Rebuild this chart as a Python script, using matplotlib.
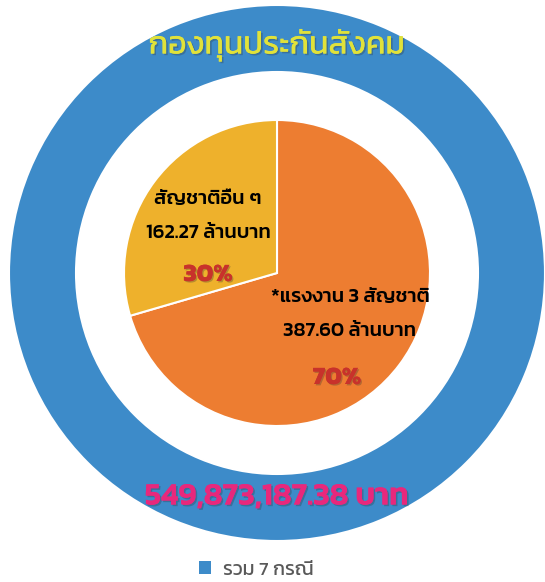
"""Social security fund donut: total ring + split by nationality group."""
import matplotlib
matplotlib.use("Agg")
import matplotlib.pyplot as plt
import matplotlib.patheffects as pe
from matplotlib.patches import Patch

plt.rcParams["font.family"] = ["Kanit", "DejaVu Sans"]

TITLE = "กองทุนประกันสังคม"
TOTAL_LABEL = ["รวม 7 กรณี"]
TOTAL_VALUE = [549873187.38]          # baht
GROUP_NAMES = ["*แรงงาน 3 สัญชาติ", "สัญชาติอื่น ๆ"]
GROUP_VALUES = [387.60, 162.27]       # million baht
GROUP_COLORS = ["#ED7D31", "#EEB12C"]
RING_COLOR = "#3D8BC9"

W, H = 545, 582
CX, CY = 277, H - 273
R_OUT, R_HOLE, R_PIE = 268, 201, 153


def shadow(dx=1.0, dy=-1.0, alpha=0.3):
    return [pe.withSimplePatchShadow(offset=(dx, dy), shadow_rgbFace="#333333", alpha=alpha),
            pe.Normal()]


fig = plt.figure(figsize=(W / 100, H / 100), dpi=100)
ax = fig.add_axes([0, 0, 1, 1])

ax.pie(TOTAL_VALUE, radius=R_OUT, center=(CX, CY), startangle=90,
       colors=[RING_COLOR],
       wedgeprops=dict(width=R_OUT - R_HOLE, edgecolor="white", linewidth=1.5))
ax.pie(GROUP_VALUES, radius=R_PIE, center=(CX, CY), startangle=90, counterclock=False,
       colors=GROUP_COLORS, wedgeprops=dict(edgecolor="white", linewidth=1.5))

# pie() resets the limits, so fix the pixel-like frame afterwards
ax.set_xlim(0, W)
ax.set_ylim(0, H)
ax.set_aspect("equal")
ax.axis("off")

total_m = sum(GROUP_VALUES)
pcts = [v / total_m * 100 for v in GROUP_VALUES]

# group labels (orange slice right/below, yellow slice left/up)
offsets = [(73, -58), (-69, 40)]
for name, val, pct, (dx, dy) in zip(GROUP_NAMES, GROUP_VALUES, pcts, offsets):
    x, y = CX + dx, CY + dy
    ax.text(x, y + 34, name, ha="center", va="center", fontsize=14.5,
            fontweight="medium", color="black")
    ax.text(x, y, f"{val:.2f} ล้านบาท", ha="center", va="center", fontsize=14.5,
            fontweight="medium", color="black")
    ax.text(x - (13 if dx > 0 else 0), y - (47 if dx > 0 else 42), f"{pct:.0f}%",
            ha="center", va="center", fontsize=18, fontweight="bold", color="#C8322B",
            path_effects=shadow())

ax.text(CX, H - 45, TITLE, ha="center", va="center", fontsize=23,
        color="#E0E23A", path_effects=shadow(1.2, -1.2))
ax.text(CX, H - 497, f"{TOTAL_VALUE[0]:,.2f} บาท", ha="center", va="center", fontsize=22.5,
        fontweight="semibold", color="#E8287C", path_effects=shadow(1.2, -1.2))

handle = [Patch(facecolor=RING_COLOR)]
fig.legend(handle, TOTAL_LABEL, loc="center", bbox_to_anchor=(256 / W, 12 / H),
           frameon=False, fontsize=14, labelcolor="#595959",
           handlelength=0.65, handleheight=0.65, handletextpad=0.6)

fig.savefig("out.png", dpi=100)
